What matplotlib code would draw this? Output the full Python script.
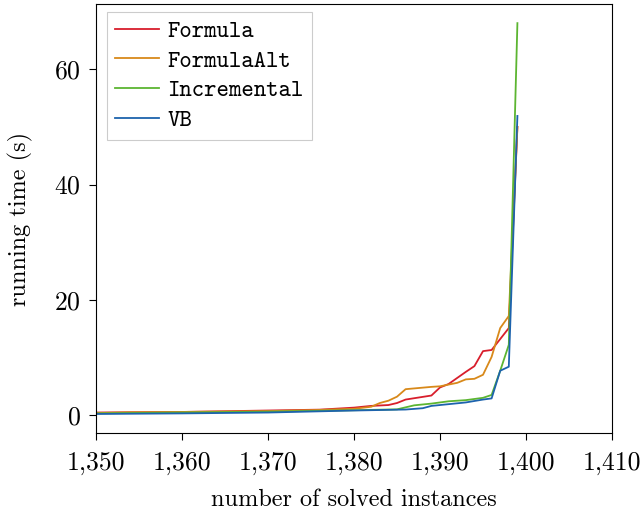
#!/usr/bin/env python3
"""Running time vs number of solved instances (cactus plot)."""

import matplotlib
matplotlib.use("Agg")
import matplotlib.pyplot as plt
from matplotlib.ticker import FuncFormatter

# Formula
formula_x = [1350, 1360, 1366, 1370, 1376, 1380, 1382, 1384, 1385, 1386, 1387.5, 1389,
             1390, 1391, 1393, 1394, 1395, 1396, 1397, 1398, 1399]
formula_y = [0.45, 0.55, 0.7, 0.8, 0.95, 1.3, 1.6, 1.75, 2.1, 2.7, 3.05, 3.4,
             4.8, 5.4, 7.5, 8.5, 11.1, 11.3, 13.2, 15.1, 50.0]

# FormulaAlt
alt_x = [1350, 1354, 1360, 1370, 1376, 1380, 1382, 1383, 1384, 1385, 1386, 1387.5,
         1389, 1390, 1391, 1392, 1393, 1394, 1395, 1396, 1397, 1398, 1399]
alt_y = [0.35, 0.5, 0.55, 0.7, 0.9, 1.1, 1.45, 2.1, 2.5, 3.2, 4.5, 4.7,
         4.9, 5.0, 5.3, 5.6, 6.2, 6.3, 7.0, 10.1, 15.1, 17.2, 50.0]

# Incremental
inc_x = [1350, 1360, 1370, 1380, 1385, 1387, 1389, 1391, 1393, 1395, 1396, 1397, 1398, 1399]
inc_y = [0.3, 0.45, 0.6, 0.85, 1.0, 1.7, 2.0, 2.4, 2.6, 3.0, 3.5, 7.7, 12.2, 68.0]

# VB
vb_x = [1350, 1360, 1370, 1380, 1386, 1388, 1389, 1391, 1393, 1395, 1396, 1397, 1398, 1399]
vb_y = [0.2, 0.3, 0.45, 0.8, 0.97, 1.2, 1.6, 1.9, 2.2, 2.7, 2.9, 7.7, 8.4, 51.9]

x_ticks = [1350, 1360, 1370, 1380, 1390, 1400, 1410]
y_ticks = [0, 20, 40, 60]

plt.rcParams["font.family"] = "cmr10"
plt.rcParams["axes.unicode_minus"] = False
plt.rcParams["axes.formatter.use_mathtext"] = True

fig = plt.figure(figsize=(6.43, 5.14), dpi=100)
ax = fig.add_axes([0.1493, 0.1576, 0.8025, 0.8344])

series = [
    ("Formula", formula_x, formula_y, "#d81e2c"),
    ("FormulaAlt", alt_x, alt_y, "#d8891a"),
    ("Incremental", inc_x, inc_y, "#5cb531"),
    ("VB", vb_x, vb_y, "#1d63ad"),
]
for label, xs, ys, color in series:
    ax.plot(xs, ys, color=color, lw=1.3, label=label)

ax.set_xlim(1350, 1410)
ax.set_ylim(-3.1, 71.3)
ax.set_xticks(x_ticks)
ax.set_yticks(y_ticks)
ax.xaxis.set_major_formatter(FuncFormatter(lambda v, _: f"{v:,.0f}"))
ax.tick_params(direction="out", length=5, width=0.8, top=False, right=False, labelsize=18.5)
ax.tick_params(axis="x", pad=8)
ax.tick_params(axis="y", pad=6)
ax.set_xlabel("number of solved instances", fontsize=17.5, labelpad=10)
ax.set_ylabel("running time (s)", fontsize=17.5, labelpad=15)

leg = ax.legend(loc="upper left", prop={"family": "cmtt10", "size": 17},
                handlelength=1.86, handletextpad=0.35, labelspacing=0.3,
                borderpad=0.35, borderaxespad=0, fancybox=False,
                framealpha=1, edgecolor="#cccccc",
                bbox_to_anchor=(0.0213, 0.981))
leg.get_frame().set_linewidth(0.8)

fig.savefig("out.png", dpi=100)
